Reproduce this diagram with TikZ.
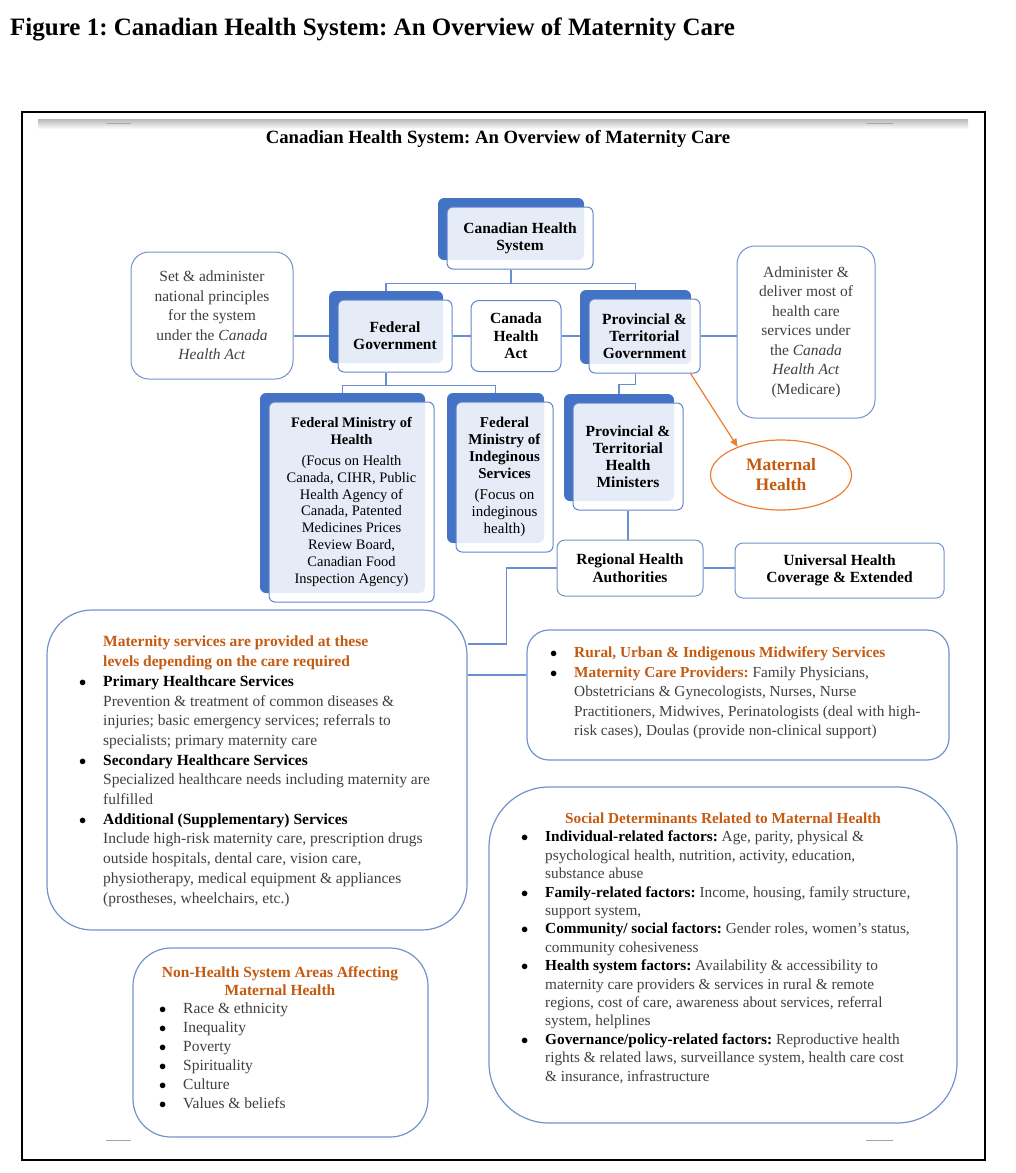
\documentclass[tikz,border=0pt]{standalone}
\usepackage{fontspec}
\setmainfont{Liberation Serif}
\usepackage{xcolor}
\usetikzlibrary{positioning,shapes.geometric,arrows.meta,shadows,backgrounds}
\definecolor{CHBlue}{HTML}{4472C4}
\definecolor{CHLine}{HTML}{7393CA}
\definecolor{CHOrange}{HTML}{C55A11}
\definecolor{CHAccent}{HTML}{ED7D31}
\definecolor{CHText}{HTML}{404040}
\frenchspacing
\newcommand{\chBullet}{\makebox[24pt][l]{\textcolor{black}{$\bullet$}}}
\newcommand{\chIndent}{\hspace*{24pt}}
\newcommand{\chKey}[1]{\textcolor{black}{\textbf{#1}}}
\newcommand{\chHi}[1]{\textcolor{CHOrange}{\textbf{#1}}}
\tikzset{
  chTier/.style={
    align=center,
    inner sep=2pt,
    line width=1pt,
    draw=CHBlue!85,
    rounded corners=6pt,
    fill=white,
    fill opacity=0.87,
    text opacity=1,
    text=black,
    font=\fontsize{15.5pt}{17pt}\selectfont\bfseries,
    copy shadow={shadow xshift=-9pt, shadow yshift=9pt, fill=CHBlue, fill opacity=1, draw=none}
  },
  chPlain/.style={
    align=center,
    inner sep=2pt,
    line width=1pt,
    draw=CHBlue!85,
    rounded corners=8pt,
    fill=white,
    text=black,
    font=\fontsize{15.5pt}{17.5pt}\selectfont\bfseries
  },
  chNote/.style={
    align=center,
    inner sep=2pt,
    line width=1pt,
    draw=CHLine,
    rounded corners=18pt,
    fill=white,
    text=CHText,
    font=\fontsize{15.5pt}{19.5pt}\selectfont
  },
  chPanel/.style={
    line width=1.2pt,
    draw=CHLine,
    fill=white,
    inner sep=0pt
  },
  chBody/.style={
    anchor=north west,
    align=left,
    inner sep=0pt,
    text=CHText
  },
  chHead/.style={
    align=center,
    inner sep=0pt,
    text=CHOrange,
    font=\fontsize{15.5pt}{18.5pt}\selectfont\bfseries
  },
  chLink/.style={
    line width=1.4pt,
    draw=CHBlue!80
  },
  chArrow/.style={
    line width=1.2pt,
    draw=CHAccent,
    fill=CHAccent,
    -{Triangle[length=8pt,width=7pt]}
  }
}

\begin{document}
\begin{tikzpicture}[x=1pt, y=-1pt]
  \useasboundingbox (0,0) rectangle (1015,1173);

  % Caption, frame and page marks
  \node (figTitle) [anchor=base west, inner sep=0pt, font=\fontsize{25pt}{30pt}\selectfont\bfseries] at (10,35) {Figure 1: Canadian Health System: An Overview of Maternity Care};
  \draw [line width=1.3pt] (22,112) rectangle (985,1160);
  \shade [top color=black!28, bottom color=white] (38,119) rectangle (968,129);
  \draw [black!35, line width=1pt] (106,123) -- (131,123) (866,123) -- (893,123) (106,1140) -- (131,1140) (866,1140) -- (893,1140);
  \node (mapTitle) [anchor=base, inner sep=0pt, font=\fontsize{18.7pt}{22pt}\selectfont\bfseries] at (498,143) {Canadian Health System: An Overview of Maternity Care};

  % Org chart: governments
  \node (chs) [chTier, minimum width=146pt, minimum height=62pt] at (520,238) {Canadian Health\\System};
  \node (fed) [chTier, minimum width=114pt, minimum height=72pt] at (395,336) {Federal\\Government};
  \node (cha) [chPlain, right=18pt of fed, minimum width=90pt, minimum height=71pt] {Canada\\Health\\Act};
  \node (prov) [chTier, right=27pt of cha, minimum width=111pt, minimum height=74pt] {Provincial \&\\Territorial\\Government};
  \node (noteL) [chNote, left=44pt of fed, yshift=20.5pt, minimum width=162pt, minimum height=127pt] {Set \& administer\\national principles\\for the system\\under the \textit{Canada}\\\textit{Health Act}};
  \node (noteR) [chNote, right=36pt of prov, yshift=4pt, minimum width=138pt, minimum height=172pt] {Administer \&\\deliver most of\\health care\\services under\\the \textit{Canada}\\\textit{Health Act}\\(Medicare)};

  % Org chart: ministries
  \node (fmh) [chTier, minimum width=165pt, minimum height=200pt, font=\fontsize{14.5pt}{16.8pt}\selectfont] at (351.5,502) {\textbf{Federal Ministry of}\\\textbf{Health}\\[4pt](Focus on Health\\Canada, CIHR, Public\\Health Agency of\\Canada, Patented\\Medicines Prices\\Review Board,\\Canadian Food\\Inspection Agency)};
  \node (fmis) [chTier, minimum width=97pt, minimum height=150pt, font=\fontsize{15pt}{17pt}\selectfont] at (504.5,477) {\textbf{Federal}\\\textbf{Ministry of}\\\textbf{Indeginous}\\\textbf{Services}\\[4pt](Focus on\\indeginous\\health)};
  \node (pthm) [chTier, minimum width=110pt, minimum height=107pt] at (628,456.5) {Provincial \&\\Territorial\\Health\\Ministers};
  \node (mh) [ellipse, draw=CHAccent, line width=1.2pt, minimum width=141pt, minimum height=70pt, inner sep=0pt, text=CHOrange, align=center, font=\fontsize{17.5pt}{20pt}\selectfont\bfseries] at (781,475) {Maternal\\Health};
  \node (rha) [chPlain, draw=CHLine, minimum width=146pt, minimum height=56pt] at (630,568) {Regional Health\\Authorities};
  \node (uhc) [chPlain, draw=CHLine, right=31pt of rha, yshift=-2.5pt, minimum width=209pt, minimum height=55pt] {Universal Health\\Coverage \& Extended};

  % Lower panels
  \node (mat) [chPanel, rounded corners=45pt, minimum width=420pt, minimum height=320pt] at (257,770) {};
  \node (mid) [chPanel, rounded corners=22pt, minimum width=422pt, minimum height=130pt] at (738,695) {};
  \node (soc) [chPanel, rounded corners=60pt, minimum width=468pt, minimum height=336pt] at (723,955) {};
  \node (non) [chPanel, rounded corners=38pt, minimum width=295pt, minimum height=189pt] at (280.5,1042.5) {};

  \node (matTxt) [chBody, font=\fontsize{15.5pt}{19.7pt}\selectfont] at (79,636) {
    \chIndent\chHi{Maternity services are provided at these}\\
    \chIndent\chHi{levels depending on the care required}\\
    \chBullet\chKey{Primary Healthcare Services}\\
    \chIndent Prevention \& treatment of common diseases \&\\
    \chIndent injuries; basic emergency services; referrals to\\
    \chIndent specialists; primary maternity care\\
    \chBullet\chKey{Secondary Healthcare Services}\\
    \chIndent Specialized healthcare needs including maternity are\\
    \chIndent fulfilled\\
    \chBullet\chKey{Additional (Supplementary) Services}\\
    \chIndent Include high-risk maternity care, prescription drugs\\
    \chIndent outside hospitals, dental care, vision care,\\
    \chIndent physiotherapy, medical equipment \& appliances\\
    \chIndent (prostheses, wheelchairs, etc.)};

  \node (midTxt) [chBody, font=\fontsize{15.3pt}{19.5pt}\selectfont] at (550,647) {
    \chBullet\chHi{Rural, Urban \& Indigenous Midwifery Services}\\
    \chBullet\chHi{Maternity Care Providers:} Family Physicians,\\
    \chIndent Obstetricians \& Gynecologists, Nurses, Nurse\\
    \chIndent Practitioners, Midwives, Perinatologists (deal with high-\\
    \chIndent risk cases), Doulas (provide non-clinical support)};

  \node (socHead) [chHead, font=\fontsize{15.3pt}{18.5pt}\selectfont\bfseries] at (723,818) {Social Determinants Related to Maternal Health};
  \node (socTxt) [chBody, font=\fontsize{15.3pt}{18.4pt}\selectfont] at (521,831) {
    \chBullet\chKey{Individual-related factors:} Age, parity, physical \&\\
    \chIndent psychological health, nutrition, activity, education,\\
    \chIndent substance abuse\\
    \chBullet\chKey{Family-related factors:} Income, housing, family structure,\\
    \chIndent support system,\\
    \chBullet\chKey{Community/ social factors:} Gender roles, women’s status,\\
    \chIndent community cohesiveness\\
    \chBullet\chKey{Health system factors:} Availability \& accessibility to\\
    \chIndent maternity care providers \& services in rural \& remote\\
    \chIndent regions, cost of care, awareness about services, referral\\
    \chIndent system, helplines\\
    \chBullet\chKey{Governance/policy-related factors:} Reproductive health\\
    \chIndent rights \& related laws, surveillance system, health care cost\\
    \chIndent \& insurance, infrastructure};

  \node (nonHead) [chHead] at (280,981) {Non-Health System Areas Affecting\\Maternal Health};
  \node (nonTxt) [chBody, font=\fontsize{15.5pt}{19pt}\selectfont] at (159,1003) {
    \chBullet Race \& ethnicity\\
    \chBullet Inequality\\
    \chBullet Poverty\\
    \chBullet Spirituality\\
    \chBullet Culture\\
    \chBullet Values \& beliefs};

  % Connectors
  \begin{scope}[on background layer]
    \draw [chLink] ([xshift=-9pt]chs.south) -- ++(0,14) -| ([xshift=-9pt,yshift=9pt]fed.north);
    \draw [chLink] ([xshift=-9pt]chs.south) -- ++(0,14) -| ([xshift=-9pt,yshift=9pt]prov.north);
    \draw [chLink] (noteL.east |- fed.west) -- ([xshift=-9pt]fed.west);
    \draw [chLink] (fed.east) -- (fed.east -| cha.west);
    \draw [chLink] (cha.east) -- ([xshift=-9pt]cha.east -| prov.west);
    \draw [chLink] (prov.east) -- (prov.east -| noteR.west);
    \draw [chLink] ([xshift=-9pt]fed.south) -- ++(0,13) -| ([xshift=-9pt,yshift=9pt]fmh.north);
    \draw [chLink] ([xshift=-9pt]fed.south) -- ++(0,13) -| ([xshift=-9pt,yshift=9pt]fmis.north);
    \draw [chLink] ([xshift=-9pt]prov.south) -- ++(0,11) -| ([xshift=-9pt,yshift=9pt]pthm.north);
    \draw [chLink] (pthm.south) -- (pthm.south |- rha.north);
    \draw [chLink] (rha.east) -- (rha.east -| uhc.west);
    \draw [chLink] (rha.west) -- ++(-50,0) |- ([yshift=126pt]mat.east);
    \draw [chLink] ([yshift=95pt]mat.east) -- ([yshift=95pt]mat.east -| mid.west);
  \end{scope}
  \draw [chArrow] ([xshift=-10pt]prov.south east) -- (mh.147);
\end{tikzpicture}
\end{document}
